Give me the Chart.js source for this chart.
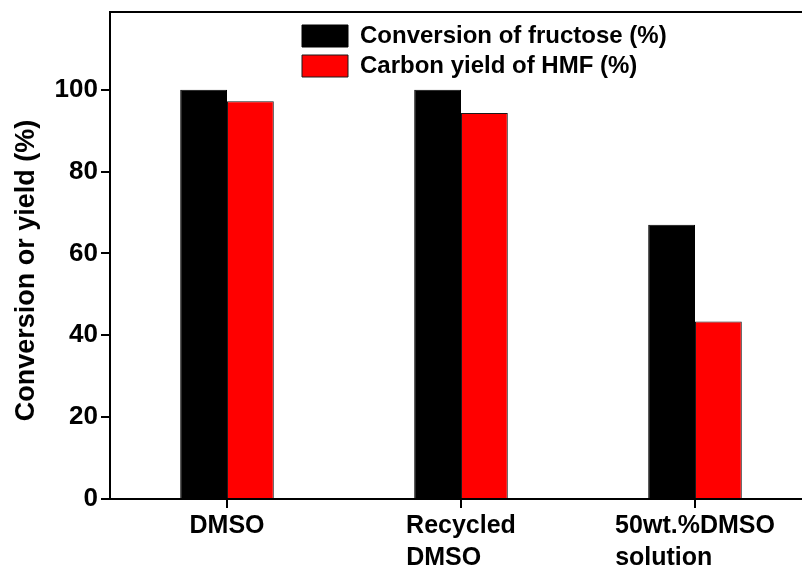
<!DOCTYPE html>
<html>
<head>
<meta charset="utf-8">
<script src="https://cdn.jsdelivr.net/npm/chart.js@4/dist/chart.umd.min.js"></script>
<style>
    html, body { margin: 0; padding: 0; background: #fff; overflow: hidden; }
</style>
</head>
<body>
<canvas id="chart" width="816" height="567"></canvas>
<script>
const categories = [['DMSO'], ['Recycled', 'DMSO'], ['50wt.%DMSO', 'solution']]
const conversion = [100, 100, 67.0]
const hmfYield = [97.2, 94.3, 43.4]
const yTicks = [0, 20, 40, 60, 80, 100]

const FONT = '"Liberation Sans", Arial, sans-serif'

// left-align the lines of a label by padding the short ones with spaces
function padLines(lines) {
    const ctx = document.createElement('canvas').getContext('2d')
    ctx.font = 'bold 25px ' + FONT
    const w = Math.max(...lines.map(l => ctx.measureText(l).width))
    const sp = ctx.measureText(' ').width
    return lines.map(l => {
        let s = l
        while (ctx.measureText(s + ' ').width <= w + sp / 2) s += ' '
        return s
    })
}

// move the legend into the upper middle of the plot
const legendSpot = {
    id: 'legendSpot',
    afterLayout(chart) {
        const lg = chart.legend
        const dx = 302 - 6 - lg.left
        const dy = 18 - lg.top
        lg.left += dx; lg.right += dx
        lg.top += dy; lg.bottom += dy
    }
}

new Chart('chart', {
    type: 'bar',
    data: {
        labels: categories,
        datasets: [{
            label: 'Conversion of fructose (%)',
            data: conversion,
            backgroundColor: '#000000',
            borderColor: '#000000',
            borderWidth: 1
        },
        {
            label: 'Carbon yield of HMF (%)',
            data: hmfYield,
            backgroundColor: '#ff0000',
            borderColor: '#1a1a1a',
            borderWidth: 1
        }]
    },
    options: {
        responsive: false,
        animation: false,
        layout: { padding: { top: 12, right: 4, left: 0, bottom: 0 } },
        datasets: { bar: { categoryPercentage: 0.4, barPercentage: 1 } },
        plugins: {
            tooltip: { enabled: false },
            legend: {
                position: 'chartArea',
                align: 'start',
                labels: {
                    boxWidth: 46,
                    boxHeight: 22,
                    padding: 6,
                    textAlign: 'left',
                    color: '#000',
                    font: { family: FONT, size: 24, weight: 'bold' }
                }
            }
        },
        scales: {
            x: {
                grid: { offset: false, drawOnChartArea: false, drawTicks: true, tickLength: 9, color: '#000', lineWidth: 2 },
                border: { display: true, color: '#000', width: 2 },
                ticks: {
                    color: '#000',
                    padding: 2,
                    maxRotation: 0,
                    autoSkip: false,
                    font: { family: FONT, size: 25, weight: 'bold', lineHeight: 1.28 },
                    callback: (v, i) => padLines(categories[i])
                },
                afterFit: s => { s.height = 68; s.paddingLeft = 0; s.paddingRight = 0 }
            },
            x2: {
                position: 'top',
                grid: { display: false, drawTicks: false },
                ticks: { display: false },
                border: { display: true, color: '#000', width: 2 }
            },
            y: {
                min: 0,
                max: 119,
                afterBuildTicks: s => { s.ticks = yTicks.map(v => ({ value: v })) },
                grid: { drawOnChartArea: false, drawTicks: true, tickLength: 9, color: '#000', lineWidth: 2 },
                border: { display: true, color: '#000', width: 2 },
                ticks: {
                    color: '#000',
                    padding: 3,
                    font: { family: FONT, size: 26, weight: 'bold' }
                },
                title: {
                    display: true,
                    text: 'Conversion or yield (%)    ',
                    color: '#000',
                    padding: { top: 10, bottom: 0 },
                    font: { family: FONT, size: 27, weight: 'bold' }
                },
                afterFit: s => { s.width = 110; s.paddingTop = 0; s.paddingBottom = 0 }
            }
        }
    },
    plugins: [legendSpot]
})
</script>
</body>
</html>
